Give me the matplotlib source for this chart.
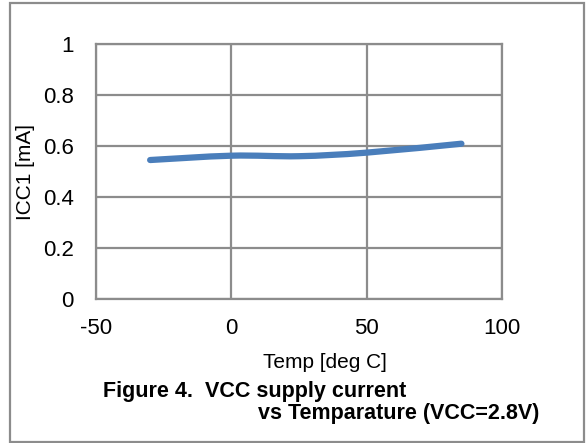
import matplotlib
matplotlib.use("Agg")
import matplotlib.pyplot as plt
from matplotlib.path import Path
from matplotlib.patches import PathPatch, Rectangle

# data
temps = [-30, 0, 25, 50, 85]
icc1 = [0.545, 0.562, 0.560, 0.574, 0.609]
xticks = [-50, 0, 50, 100]
yticks = [0, 0.2, 0.4, 0.6, 0.8, 1]

GRID = "#8c8c8c"
LINE = "#4a7ebb"

plt.rcParams["font.family"] = ["Liberation Sans", "DejaVu Sans"]
plt.rcParams["axes.unicode_minus"] = False

W, H = 587, 443
fig = plt.figure(figsize=(W / 100, H / 100), dpi=100)
ax = fig.add_axes([96 / W, 1 - 299 / H, (502 - 96) / W, (299 - 44) / H])


def smooth_path(xs, ys, t=1 / 6):
    # Excel-like smoothed line: Catmull-Rom through the points as cubic Beziers
    verts = [(xs[0], ys[0])]
    codes = [Path.MOVETO]
    n = len(xs)
    for i in range(n - 1):
        x0, y0 = (xs[i - 1], ys[i - 1]) if i > 0 else (xs[i], ys[i])
        x3, y3 = (xs[i + 2], ys[i + 2]) if i + 2 < n else (xs[i + 1], ys[i + 1])
        x1, y1 = xs[i], ys[i]
        x2, y2 = xs[i + 1], ys[i + 1]
        c1 = (x1 + (x2 - x0) * t, y1 + (y2 - y0) * t)
        c2 = (x2 - (x3 - x1) * t, y2 - (y3 - y1) * t)
        verts += [c1, c2, (x2, y2)]
        codes += [Path.CURVE4] * 3
    return Path(verts, codes)


ax.add_patch(PathPatch(smooth_path(temps, icc1), facecolor="none", edgecolor=LINE,
                       lw=4.5, capstyle="round", joinstyle="round", zorder=3))

ax.set_xlim(-50, 100)
ax.set_ylim(0, 1)
ax.set_xticks(xticks)
ax.set_yticks(yticks)
ax.set_yticklabels(["0", "0.2", "0.4", "0.6", "0.8", "1"])
ax.tick_params(length=0, labelsize=16, pad=14, colors="black")
ax.tick_params(axis="y", pad=16)
ax.grid(color=GRID, lw=1.6)
for s in ax.spines.values():
    s.set_color(GRID)
    s.set_linewidth(1.6)

ax.set_ylabel("ICC1 [mA]", fontsize=15, labelpad=6)
fig.text(325 / W, 1 - 363 / H, "Temp [deg C]", fontsize=15, ha="center", va="center")
fig.text(103 / W, 1 - 391 / H, "Figure 4.  VCC supply current", fontsize=15.5,
         fontweight="bold", ha="left", va="center")
fig.text(539 / W, 1 - 413 / H, "vs Temparature (VCC=2.8V)", fontsize=15.5,
         fontweight="bold", ha="right", va="center")

# outer frame
fig.patches.append(Rectangle((10 / W, 1 - 442 / H), (584 - 10) / W, (442 - 3) / H,
                             transform=fig.transFigure, fill=False,
                             edgecolor=GRID, lw=1.6))

fig.savefig("out.png", dpi=100)
